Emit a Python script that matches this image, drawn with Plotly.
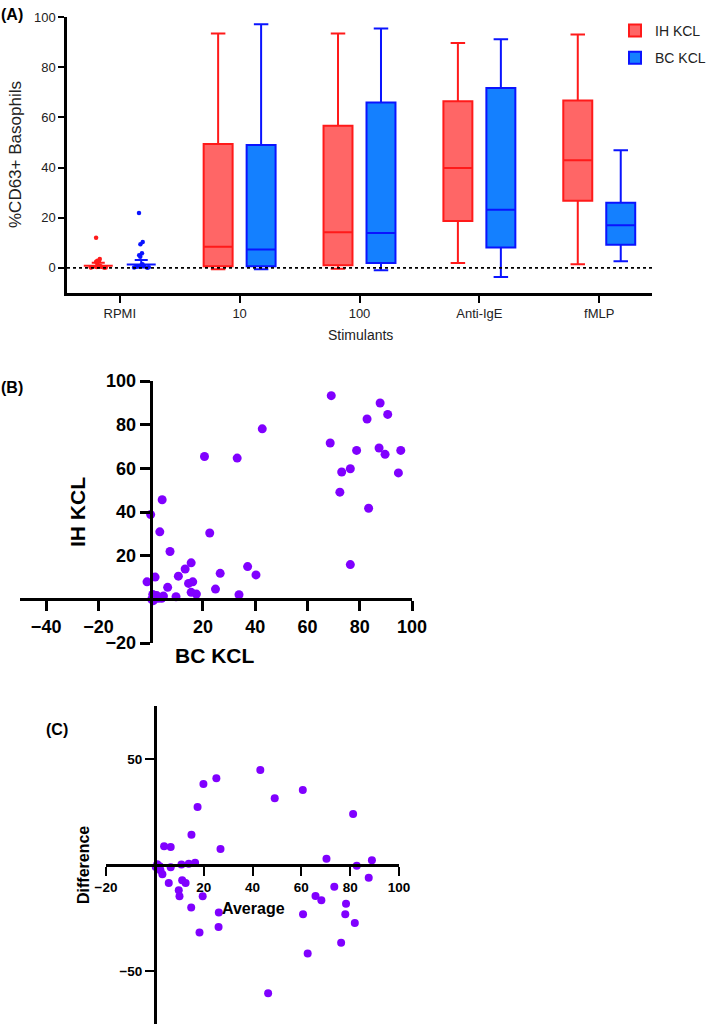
import plotly.graph_objects as go

W, H = 709, 1035
FONT = "Liberation Sans, Arial, sans-serif"

# ---------------- Panel A data ----------------
categories = ["RPMI", "10", "100", "Anti-IgE", "fMLP"]
box_cats = ["10", "100", "Anti-IgE", "fMLP"]

ih_lower = [-0.5, -0.3, 2.0, 1.5]
ih_q1 = [0.7, 1.1, 18.7, 26.8]
ih_median = [8.4, 14.2, 39.8, 42.9]
ih_q3 = [49.4, 56.7, 66.4, 66.7]
ih_upper = [93.4, 93.4, 89.6, 93.0]

bc_lower = [-0.5, -0.9, -3.6, 2.7]
bc_q1 = [0.7, 2.0, 8.1, 9.2]
bc_median = [7.3, 13.9, 23.2, 17.0]
bc_q3 = [49.0, 65.9, 71.7, 26.0]
bc_upper = [97.1, 95.4, 91.1, 46.9]

rpmi_ih_points = [12.0, 3.6, 2.9, 2.8, 2.5, 1.2, 0.9, 0.6, 0.4, 0.3, 0.2, 0.1, 0.5, 0.2]
rpmi_bc_points = [21.9, 10.3, 9.4, 5.8, 5.0, 4.4, 1.5, 1.0, 0.8, 0.5, 0.3, 0.2, 0.1, 0.6]
rpmi_ih_err = [0.2, 0.9, 2.1]   # lower, centre, upper
rpmi_bc_err = [0.2, 1.4, 3.2]

# ---------------- Panel B data ----------------
bc_kcl = [69.1, 87.8, 90.7, 82.8, 42.7, 68.7, 78.8, 87.4, 89.7, 95.7, 20.6, 33.1,
          73.1, 76.4, 94.8, 72.4, 83.4, 4.4, 0.0, 3.5, 22.6, 7.4, 76.4, 15.5, 13.2,
          37.1, 40.3, 26.6, 10.6, 1.7, -1.4, 16.1, 14.5, 6.5, 24.8, 15.5, 17.5, 33.8,
          9.7, 4.9, 0.4, 1.7, 2.9, 4.2, 1.0, 2.3, 3.6, 0.8]
ih_kcl = [93.3, 89.9, 84.7, 82.6, 78.1, 71.6, 68.2, 69.3, 66.4, 68.2, 65.4, 64.7,
          58.3, 59.8, 57.9, 49.1, 41.7, 45.6, 38.8, 30.9, 30.4, 21.9, 15.9, 16.7, 13.9,
          15.0, 11.2, 11.9, 10.6, 10.2, 8.0, 8.0, 7.3, 5.5, 4.7, 3.2, 2.4, 2.1,
          1.2, 1.5, 0.0, 0.9, 0.5, 0.5, -0.6, 1.7, 1.0, 2.2]

# ---------------- Panel C data ----------------
ba_average = [43.2, 25.2, 19.9, 60.6, 49.1, 17.5, 81.2, 15.0, 3.8, 6.5, 26.9, 70.3,
              88.9, 16.5, 13.9, 10.9, 82.7, 6.5, 2.0, 0.4, 1.0, 1.5, 2.3, 3.1, 87.6,
              11.2, 12.6, 5.7, 73.5, 9.8, 10.1, 19.6, 65.8, 68.2, 78.3, 14.9, 26.2,
              60.7, 78.0, 81.9, 26.1, 18.3, 76.3, 62.6, 46.4]
ba_difference = [44.8, 40.9, 38.2, 35.4, 31.5, 27.3, 24.1, 14.3, 8.8, 8.5, 7.5, 3.0,
                 2.2, 1.1, 0.6, 0.2, -0.3, -1.1, -0.6, -0.9, 0.3, -1.7, -2.5, -4.4, -6.0,
                 -7.2, -8.5, -8.5, -10.3, -11.9, -14.7, -14.7, -14.6, -16.6, -18.3, -20.1, -22.4,
                 -23.2, -23.2, -27.3, -29.2, -31.8, -36.7, -41.7, -60.5]

IH_FILL, IH_LINE = "#FF6666", "#FF1A1A"
BC_FILL, BC_LINE = "#1480FF", "#0A14FF"
PURPLE = "#8000FF"


def px(x):
    return x / W


def py(y):
    return 1 - y / H


fig = go.Figure()

# main boxes
fig.add_trace(go.Box(
    name="IH KCL", x=box_cats, q1=ih_q1, median=ih_median, q3=ih_q3,
    lowerfence=ih_lower, upperfence=ih_upper, fillcolor=IH_FILL,
    line=dict(color=IH_LINE, width=2), offsetgroup="IH", legendgroup="IH",
    whiskerwidth=0.5, boxpoints=False, xaxis="x", yaxis="y"))
fig.add_trace(go.Box(
    name="BC KCL", x=box_cats, q1=bc_q1, median=bc_median, q3=bc_q3,
    lowerfence=bc_lower, upperfence=bc_upper, fillcolor=BC_FILL,
    line=dict(color=BC_LINE, width=2), offsetgroup="BC", legendgroup="BC",
    whiskerwidth=0.5, boxpoints=False, xaxis="x", yaxis="y"))

# RPMI: centre line with error bars
for err, col, grp in [(rpmi_ih_err, IH_LINE, "IH"), (rpmi_bc_err, BC_LINE, "BC")]:
    fig.add_trace(go.Box(
        x=["RPMI"], q1=[err[1]], median=[err[1]], q3=[err[1]],
        lowerfence=[err[0]], upperfence=[err[2]], fillcolor="rgba(0,0,0,0)",
        line=dict(color=col, width=2), offsetgroup=grp, whiskerwidth=0.45,
        boxpoints=False, showlegend=False, xaxis="x", yaxis="y"))

# RPMI: individual points
for pts, col, grp in [(rpmi_ih_points, IH_LINE, "IH"), (rpmi_bc_points, BC_LINE, "BC")]:
    fig.add_trace(go.Box(
        x=["RPMI"] * len(pts), y=pts, boxpoints="all", jitter=0.8, pointpos=0,
        fillcolor="rgba(0,0,0,0)", line=dict(color="rgba(0,0,0,0)", width=0),
        marker=dict(color=col, size=4.5), offsetgroup=grp, showlegend=False,
        xaxis="x", yaxis="y"))

# Panel B scatter
fig.add_trace(go.Scatter(
    x=bc_kcl, y=ih_kcl, mode="markers", marker=dict(color=PURPLE, size=9),
    showlegend=False, xaxis="x2", yaxis="y2"))

# Panel C scatter
fig.add_trace(go.Scatter(
    x=ba_average, y=ba_difference, mode="markers", marker=dict(color=PURPLE, size=8),
    showlegend=False, xaxis="x3", yaxis="y3"))

# ---- domains
A_x = [px(67), px(652)]
A_y = [py(293), py(17)]
B_x = [px(20), px(412)]
B_y = [py(643), py(381)]
C_x = [px(106), px(399)]
C_y = [py(1024), py(706)]

B_xr = [-50, 100]
B_yr = [-20, 100]
C_xr = [-20, 100]
C_yr = [-75, 75]


def cross(dom, rng):
    return dom[0] + (dom[1] - dom[0]) * (0 - rng[0]) / (rng[1] - rng[0])


axis_common = dict(showgrid=False, zeroline=False, showline=True, linecolor="black",
                   ticks="outside", tickcolor="black", automargin=False)

fig.update_layout(
    template="none",
    width=W, height=H,
    margin=dict(l=0, r=0, t=0, b=0, pad=0, autoexpand=False),
    paper_bgcolor="white", plot_bgcolor="white",
    font=dict(family=FONT, color="#222"),
    boxmode="group", boxgap=0.283, boxgroupgap=0.326,
    xaxis=dict(domain=A_x, anchor="y", type="category", categoryorder="array",
               categoryarray=categories, range=[-0.44, 4.44], linewidth=2.5,
               ticklen=7, tickwidth=2, tickfont=dict(size=13, color="#222"),
               **axis_common),
    yaxis=dict(domain=A_y, anchor="x", range=[-10, 100], tickvals=[0, 20, 40, 60, 80, 100],
               linewidth=2.5, ticklen=6, tickwidth=2, tickfont=dict(size=13, color="#222"),
               **axis_common),
    xaxis2=dict(domain=B_x, anchor="free", position=cross(B_y, B_yr), range=B_xr,
                tickvals=[-40, -20, 20, 40, 60, 80, 100], linewidth=3, ticklen=10,
                tickwidth=2.5, tickfont=dict(size=18, color="black", weight="bold"),
                **axis_common),
    yaxis2=dict(domain=B_y, anchor="free", position=cross(B_x, B_xr), range=B_yr,
                tickvals=[-20, 20, 40, 60, 80, 100], linewidth=3, ticklen=10,
                tickwidth=2.5, tickfont=dict(size=18, color="black", weight="bold"),
                **axis_common),
    xaxis3=dict(domain=C_x, anchor="free", position=cross(C_y, C_yr), range=C_xr,
                tickvals=[-20, 20, 40, 60, 80, 100], linewidth=2.5, ticklen=9,
                tickwidth=2, tickfont=dict(size=13.5, color="black", weight="bold"),
                **axis_common),
    yaxis3=dict(domain=C_y, anchor="free", position=cross(C_x, C_xr), range=C_yr,
                tickvals=[-50, 50], linewidth=2.5, ticklen=9,
                tickwidth=2, tickfont=dict(size=13.5, color="black", weight="bold"),
                **axis_common),
    legend=dict(x=px(615), y=py(15), xanchor="left", yanchor="top",
                font=dict(size=14, color="#222"), tracegroupgap=6,
                bgcolor="rgba(0,0,0,0)"),
)

# dotted zero line in panel A
fig.add_shape(type="line", xref="x domain", yref="y", x0=0, x1=1, y0=0, y1=0,
              line=dict(color="black", width=1.6, dash="3px,3px"))


def ann(text, x, y, size, bold=False, angle=0, color="#222"):
    fig.add_annotation(text=f"<b>{text}</b>" if bold else text, x=px(x), y=py(y),
                       xref="paper", yref="paper", showarrow=False, textangle=angle,
                       font=dict(size=size, color=color, family=FONT),
                       xanchor="center", yanchor="middle")


ann("(A)", 12, 15, 16, bold=True, color="black")
ann("(B)", 12, 388, 16, bold=True, color="black")
ann("(C)", 57, 729, 16, bold=True, color="black")
ann("%CD63+ Basophils", 15, 155, 17, angle=-90)
ann("Stimulants", 360, 335, 14)
ann("IH KCL", 78, 512, 21, bold=True, angle=-90, color="black")
ann("BC KCL", 215, 655, 21, bold=True, color="black")
ann("Difference", 83, 865, 16, bold=True, angle=-90, color="black")
ann("Average", 253, 908, 16, bold=True, color="black")

fig.write_html("out.html", config={"displayModeBar": False},
               post_script="document.body.style.margin='0';document.body.style.overflow='hidden';")
